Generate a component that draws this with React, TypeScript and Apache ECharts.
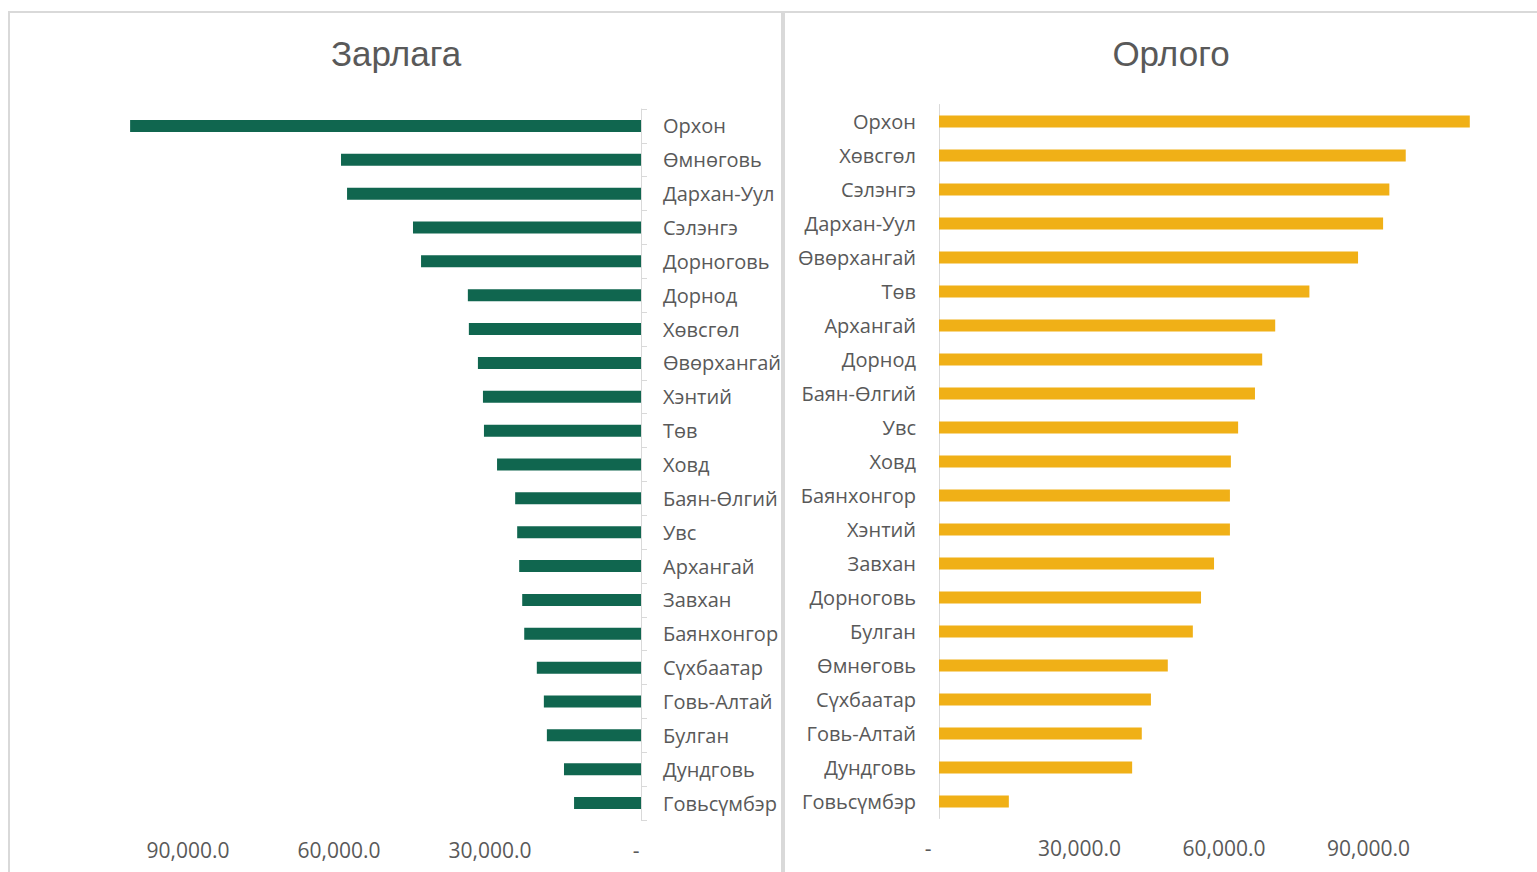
import React, { useEffect, useRef } from "react";
import * as echarts from "echarts";

const leftTitle = "Зарлага";
const rightTitle = "Орлого";

const leftCategories = [
  "Орхон", "Өмнөговь", "Дархан-Уул", "Сэлэнгэ", "Дорноговь", "Дорнод", "Хөвсгөл",
  "Өвөрхангай", "Хэнтий", "Төв", "Ховд", "Баян-Өлгий", "Увс", "Архангай", "Завхан",
  "Баянхонгор", "Сүхбаатар", "Говь-Алтай", "Булган", "Дундговь", "Говьсүмбэр",
];
const leftValues = [
  101500, 59600, 58400, 45300, 43700, 34400, 34200,
  32400, 31400, 31200, 28600, 25000, 24600, 24200, 23600,
  23200, 20700, 19300, 18700, 15300, 13300,
];

const rightCategories = [
  "Орхон", "Хөвсгөл", "Сэлэнгэ", "Дархан-Уул", "Өвөрхангай", "Төв", "Архангай",
  "Дорнод", "Баян-Өлгий", "Увс", "Ховд", "Баянхонгор", "Хэнтий", "Завхан",
  "Дорноговь", "Булган", "Өмнөговь", "Сүхбаатар", "Говь-Алтай", "Дундговь", "Говьсүмбэр",
];
const rightValues = [
  110200, 96900, 93500, 92200, 87000, 76900, 69800,
  67100, 65600, 62100, 60600, 60400, 60400, 57100,
  54400, 52700, 47500, 44000, 42100, 40100, 14500,
];

const GREEN = "#10664F";
const GOLD = "#F0B017";
const TEXT = "#595959";
const LINE = "#D9D9D9";
const FONT = "'Open Sans', 'Noto Sans', sans-serif";
const TITLE_FONT = "'Liberation Sans', Arial, sans-serif";

function fmt(v: number): string {
  return v.toLocaleString("en-US", { minimumFractionDigits: 1, maximumFractionDigits: 1 });
}

export default function App() {
  const ref = useRef<HTMLDivElement>(null);
  useEffect(() => {
    if (!ref.current) return;
    const chart = echarts.init(ref.current, null, { renderer: "svg" });
    const labelBase = { fontFamily: FONT, fontSize: 21, color: TEXT };
    const makeX = (grid: number, inverse: boolean, dashPad: number, numPad: number) => ({
      type: "value",
      gridIndex: grid,
      inverse,
      min: 0,
      max: 120000,
      interval: 30000,
      axisLine: { show: false },
      axisTick: { show: false },
      splitLine: { show: false },
      axisLabel: {
        ...labelBase,
        margin: 19,
        formatter: (v: number) => {
          if (v >= 120000) return "";
          if (v === 0) return "{d|-}";
          return "{n|" + fmt(v) + "}";
        },
        rich: {
          d: { ...labelBase, padding: [0, dashPad, 0, 0] },
          n: { ...labelBase, padding: [0, numPad, 0, 0] },
        },
      },
    });
    const option = {
      animation: false,
      backgroundColor: "#ffffff",
      title: [
        {
          text: leftTitle,
          left: 391,
          top: 31,
          textAlign: "center",
          textStyle: { fontFamily: TITLE_FONT, fontSize: 35, fontWeight: "normal", color: TEXT },
        },
        {
          text: rightTitle,
          left: 1166,
          top: 31,
          textAlign: "center",
          textStyle: { fontFamily: TITLE_FONT, fontSize: 35, fontWeight: "normal", color: TEXT },
        },
      ],
      graphic: [
        { type: "rect", shape: { x: 9, y: 12, width: 773, height: 900 }, style: { fill: "none", stroke: LINE, lineWidth: 2 }, silent: true },
        { type: "rect", shape: { x: 784, y: 12, width: 800, height: 900 }, style: { fill: "none", stroke: LINE, lineWidth: 2 }, silent: true },
      ],
      grid: [
        { left: 37, right: 896, top: 109, bottom: 52 },
        { left: 939, right: 20, top: 104.5, bottom: 53.5 },
      ],
      xAxis: [makeX(0, true, 10, 0), makeX(1, false, 22, 8)],
      yAxis: [
        {
          type: "category",
          gridIndex: 0,
          position: "right",
          inverse: true,
          data: leftCategories,
          axisLine: { show: true, lineStyle: { color: LINE, width: 1 } },
          axisTick: { show: true, length: 6, lineStyle: { color: LINE } },
          axisLabel: { fontFamily: FONT, fontSize: 20, color: TEXT, margin: 22 },
        },
        {
          type: "category",
          gridIndex: 1,
          position: "left",
          inverse: true,
          data: rightCategories,
          axisLine: { show: true, lineStyle: { color: LINE, width: 1 } },
          axisTick: { show: false },
          axisLabel: { fontFamily: FONT, fontSize: 20, color: TEXT, margin: 23 },
        },
      ],
      series: [
        {
          type: "bar",
          xAxisIndex: 0,
          yAxisIndex: 0,
          data: leftValues,
          barWidth: 12,
          itemStyle: { color: GREEN },
        },
        {
          type: "bar",
          xAxisIndex: 1,
          yAxisIndex: 1,
          data: rightValues,
          barWidth: 12,
          itemStyle: { color: GOLD },
        },
      ],
    };
    chart.setOption(option as any);
    return () => chart.dispose();
  }, []);
  return (
    <div
      ref={ref}
      style={{ position: "absolute", left: 0, top: 0, width: 1537, height: 872 }}
    />
  );
}
